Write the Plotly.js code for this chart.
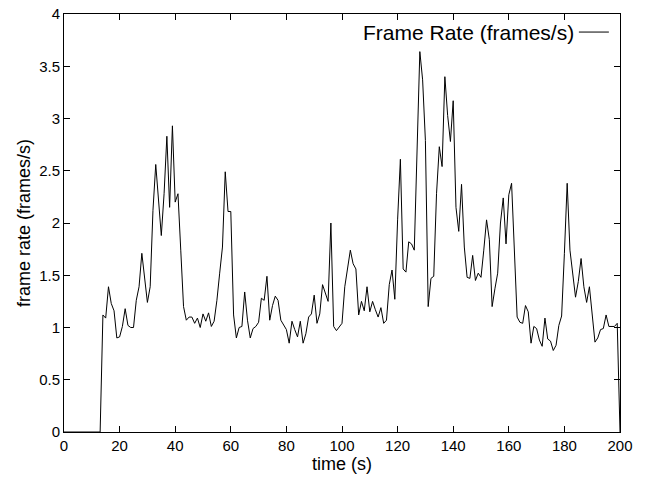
<!DOCTYPE html>
<html>
<head>
<meta charset="utf-8">
<script src="https://cdn.plot.ly/plotly-3.0.1.min.js"></script>
<style>html,body{margin:0;padding:0;background:#fff;}#chart{width:647px;height:477px;}</style>
</head>
<body>
<div id="chart"></div>
<script>
// time axis: samples every 1 s, starting at t = 0 s
const startTime = 0;
const sampleStep = 1;
// frame rate (frames/s), one value per second, t = 0 .. 200
const frameRate = [
  0, 0, 0, 0, 0, 0, 0, 0, 0, 0, 0, 0, 0, 0,                       // 0-13
  1.12, 1.09, 1.39, 1.23, 1.16, 0.90, 0.91, 1.01, 1.18, 1.02,     // 14-23
  1.00, 1.00, 1.26, 1.39, 1.71, 1.48, 1.24, 1.39, 2.12, 2.56,     // 24-33
  2.19, 1.88, 2.28, 2.83, 2.15, 2.93, 2.20, 2.28, 1.74, 1.20,     // 34-43
  1.07, 1.10, 1.10, 1.04, 1.09, 1.00, 1.13, 1.06, 1.14, 1.01,     // 44-53
  1.06, 1.26, 1.52, 1.77, 2.49, 2.11, 2.11, 1.12, 0.90, 1.00,     // 54-63
  1.01, 1.34, 1.07, 0.90, 0.99, 1.01, 1.05, 1.28, 1.26, 1.49,     // 64-73
  1.07, 1.21, 1.30, 1.26, 1.07, 1.03, 0.98, 0.85, 1.06, 0.98,     // 74-83
  0.91, 1.06, 0.85, 0.94, 1.10, 1.13, 1.31, 1.04, 1.13, 1.41,     // 84-93
  1.34, 1.25, 2.00, 1.01, 0.97, 1.01, 1.04, 1.39, 1.56, 1.74,     // 94-103
  1.61, 1.56, 1.12, 1.25, 1.16, 1.39, 1.15, 1.25, 1.17, 1.10,     // 104-113
  1.19, 1.04, 1.07, 1.41, 1.55, 1.27, 2.03, 2.61, 1.56, 1.53,     // 114-123
  1.82, 1.80, 1.74, 2.70, 3.64, 3.37, 2.79, 1.20, 1.47, 1.49,     // 124-133
  2.28, 2.73, 2.54, 3.40, 3.03, 2.78, 3.17, 2.15, 1.92, 2.37,     // 134-143
  1.77, 1.48, 1.47, 1.69, 1.45, 1.52, 1.48, 1.74, 2.03, 1.84,     // 144-153
  1.20, 1.37, 1.52, 2.00, 2.24, 1.80, 2.27, 2.38, 1.74, 1.10,     // 154-163
  1.05, 1.04, 1.21, 1.15, 0.85, 1.01, 0.99, 0.88, 0.82, 1.09,     // 164-173
  0.89, 0.87, 0.78, 0.83, 1.02, 1.11, 1.71, 2.38, 1.74, 1.48,     // 174-183
  1.29, 1.44, 1.66, 1.39, 1.24, 1.39, 1.10, 0.86, 0.90, 0.98,     // 184-193
  0.99, 1.12, 1.01, 1.01, 1.01, 1.04, 0                           // 194-200
];
const seriesName = 'Frame Rate (frames/s)';
const xTitle = 'time (s)';
const yTitle = 'frame rate (frames/s)';

const FONT = 'Liberation Sans, Arial, Helvetica, sans-serif';

const trace = {
  type: 'scatter',
  mode: 'lines',
  x0: startTime,
  dx: sampleStep,
  y: frameRate,
  name: '',
  showlegend: true,
  line: {color: '#000', width: 1}
};

const axisCommon = {
  showgrid: false,
  zeroline: false,
  showline: true,
  mirror: 'ticks',
  linecolor: '#000',
  linewidth: 1,
  ticks: 'inside',
  ticklen: 6,
  tickwidth: 1,
  tickcolor: '#000',
  tickfont: {family: FONT, size: 15, color: '#000'}
};

const layout = {
  width: 647,
  height: 477,
  margin: {l: 64, r: 27, t: 14, b: 45},
  paper_bgcolor: '#fff',
  plot_bgcolor: '#fff',
  font: {family: FONT, color: '#000'},
  showlegend: true,
  legend: {
    x: 0.998, y: 1.005, xanchor: 'right', yanchor: 'top',
    bgcolor: 'rgba(0,0,0,0)',
    borderwidth: 0,
    font: {family: FONT, size: 21, color: '#000'}
  },
  // gnuplot-style key: label text sits to the left of the line sample
  annotations: [{
    text: seriesName,
    xref: 'paper', yref: 'paper',
    x: 0.9209, y: 0.956,
    xanchor: 'right', yanchor: 'middle',
    showarrow: false,
    font: {family: FONT, size: 21, color: '#000'}
  }],
  xaxis: Object.assign({}, axisCommon, {
    range: [0, 200],
    tick0: 0,
    dtick: 20,
    title: {text: xTitle, font: {family: FONT, size: 18, color: '#000'}, standoff: 4}
  }),
  yaxis: Object.assign({}, axisCommon, {
    range: [0, 4],
    tick0: 0,
    dtick: 0.5,
    title: {text: yTitle, font: {family: FONT, size: 18, color: '#000'}, standoff: 3}
  })
};

Plotly.newPlot('chart', [trace], layout, {displayModeBar: false, staticPlot: true});
</script>
</body>
</html>
